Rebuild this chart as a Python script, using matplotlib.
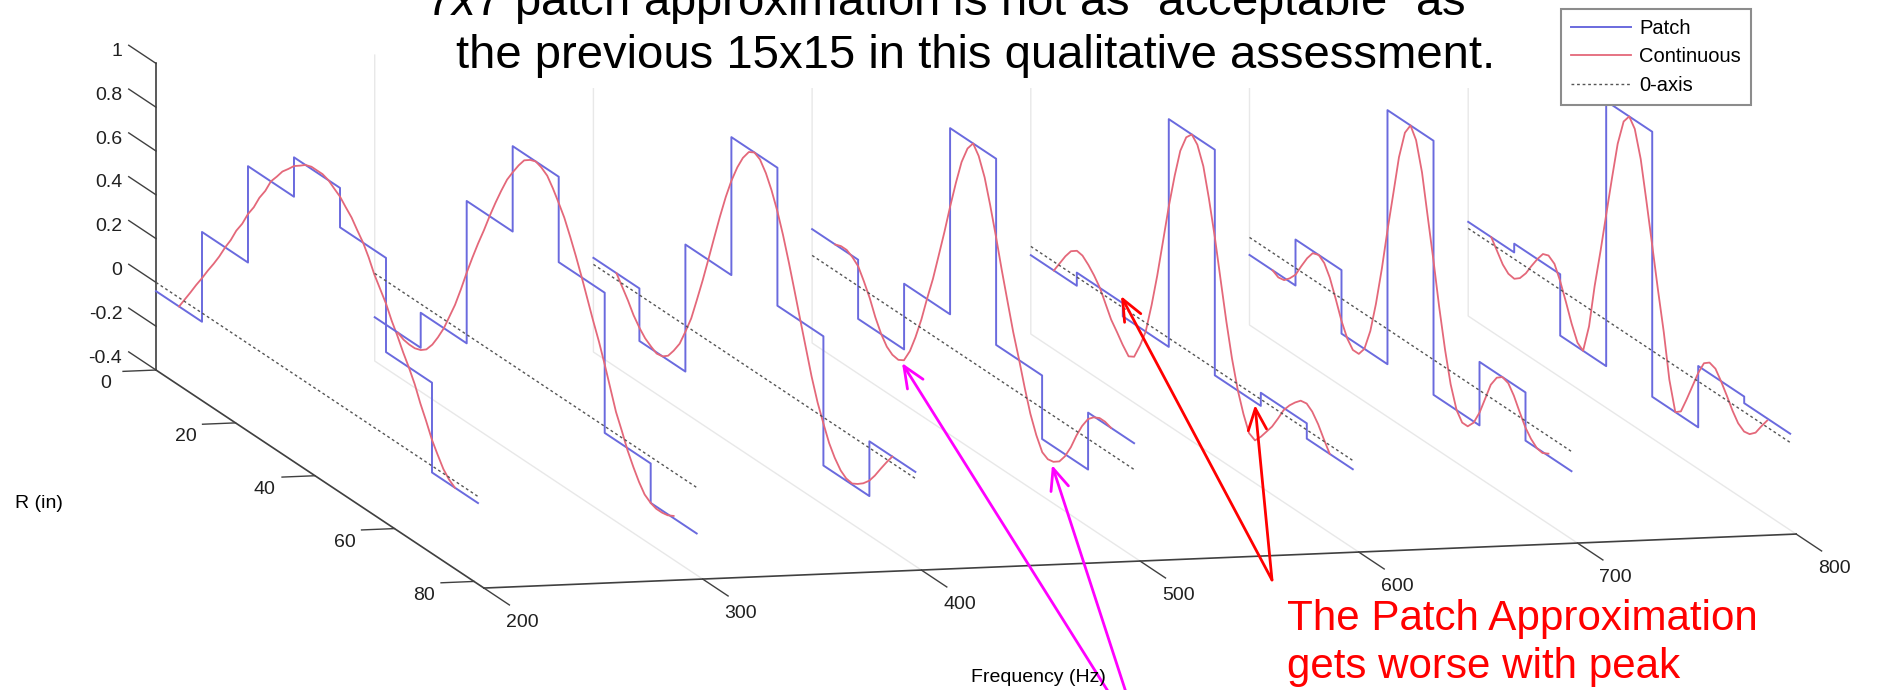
import numpy as np
import matplotlib
matplotlib.use('Agg')
import matplotlib.pyplot as plt
from matplotlib.patches import FancyArrowPatch

plt.rcParams['font.family'] = ['Liberation Sans', 'DejaVu Sans']
plt.rcParams['axes.unicode_minus'] = False
plt.rcParams['mathtext.fontset'] = 'custom'
plt.rcParams['mathtext.it'] = 'Liberation Sans:italic'
plt.rcParams['mathtext.rm'] = 'Liberation Sans'

# ---- data ----
freqs = [200, 300, 400, 500, 600, 700, 800]

# patch edges along R (7 patches) and the continuous curve sample positions
r_edges = [0.0, 11.57, 23.14, 34.71, 46.29, 57.86, 69.43, 81.0]
r_cont = [5.8, 7.25, 8.7, 10.1, 11.6, 13.0, 14.5, 15.9, 17.4, 18.8, 20.2, 21.7, 23.1,
          24.6, 26.0, 27.5, 28.9, 30.4, 31.8, 33.3, 34.7, 36.2, 37.6, 39.1, 40.5,
          41.9, 43.4, 44.8, 46.3, 47.7, 49.2, 50.6, 52.1, 53.5, 54.9, 56.4, 57.9,
          59.3, 60.7, 62.2, 63.6, 65.1, 66.5, 67.9, 69.4, 70.8, 72.3, 73.7, 75.2]

cont_200 = [-0.04, 0.01, 0.06, 0.11, 0.16, 0.21, 0.26, 0.31, 0.37, 0.42, 0.48, 0.53, 0.59,
            0.64, 0.70, 0.75, 0.81, 0.85, 0.89, 0.92, 0.95, 0.97, 0.99, 1.00, 1.00,
            1.00, 0.99, 0.97, 0.95, 0.92, 0.89, 0.85, 0.81, 0.76, 0.70, 0.65, 0.60,
            0.54, 0.49, 0.43, 0.38, 0.32, 0.25, 0.19, 0.12, 0.07, 0.02, -0.01, -0.03]
cont_300 = [-0.20, -0.215, -0.22, -0.22, -0.21, -0.19, -0.15, -0.10, -0.04, 0.03, 0.10, 0.19, 0.28,
            0.37, 0.45, 0.53, 0.61, 0.69, 0.76, 0.83, 0.88, 0.93, 0.97, 0.99, 1.00,
            0.99, 0.97, 0.93, 0.88, 0.83, 0.76, 0.69, 0.61, 0.53, 0.45, 0.37, 0.28,
            0.19, 0.10, 0.03, -0.04, -0.10, -0.15, -0.19, -0.21, -0.22, -0.22, -0.215, -0.20]
cont_400 = [0.03, -0.015, -0.06, -0.11, -0.15, -0.18, -0.20, -0.215, -0.21, -0.19, -0.15, -0.10, -0.03,
            0.05, 0.15, 0.26, 0.37, 0.49, 0.60, 0.71, 0.80, 0.88, 0.94, 0.985, 1.00,
            0.985, 0.94, 0.88, 0.80, 0.71, 0.60, 0.49, 0.37, 0.26, 0.15, 0.05, -0.03,
            -0.10, -0.15, -0.19, -0.21, -0.215, -0.20, -0.18, -0.15, -0.11, -0.06, -0.015, 0.03]
cont_500 = [0.12, 0.13, 0.13, 0.115, 0.09, 0.04, -0.02, -0.09, -0.15, -0.19, -0.21, -0.215, -0.20,
            -0.14, -0.06, 0.04, 0.15, 0.26, 0.38, 0.51, 0.64, 0.77, 0.88, 0.96, 1.00,
            0.96, 0.88, 0.77, 0.64, 0.51, 0.38, 0.26, 0.15, 0.04, -0.06, -0.14, -0.20,
            -0.215, -0.21, -0.19, -0.15, -0.09, -0.02, 0.04, 0.09, 0.115, 0.13, 0.13, 0.12]
cont_600 = [-0.04, 0.01, 0.06, 0.10, 0.12, 0.115, 0.09, 0.06, 0.02, -0.035, -0.09, -0.13, -0.17,
            -0.205, -0.19, -0.12, -0.04, 0.10, 0.25, 0.43, 0.60, 0.76, 0.89, 0.97, 1.00,
            0.97, 0.89, 0.76, 0.60, 0.43, 0.25, 0.10, -0.03, -0.12, -0.19, -0.205, -0.17,
            -0.13, -0.09, -0.035, 0.02, 0.06, 0.09, 0.115, 0.12, 0.10, 0.06, 0.01, -0.04]
cont_700 = [-0.08, -0.095, -0.09, -0.065, -0.03, 0.025, 0.08, 0.12, 0.13, 0.11, 0.06, -0.02, -0.10,
            -0.165, -0.20, -0.20, -0.16, -0.06, 0.08, 0.26, 0.45, 0.64, 0.82, 0.95, 1.00,
            0.95, 0.82, 0.64, 0.45, 0.26, 0.08, -0.06, -0.16, -0.20, -0.20, -0.165, -0.10,
            -0.02, 0.06, 0.11, 0.13, 0.12, 0.08, 0.025, -0.03, -0.065, -0.09, -0.095, -0.08]
cont_800 = [0.03, -0.015, -0.06, -0.085, -0.09, -0.07, -0.03, 0.02, 0.07, 0.11, 0.12, 0.10, 0.04,
            -0.04, -0.12, -0.19, -0.21, -0.08, 0.12, 0.30, 0.48, 0.67, 0.84, 0.96, 1.00,
            0.96, 0.84, 0.67, 0.48, 0.30, 0.12, -0.08, -0.21, -0.19, -0.12, -0.04, 0.04,
            0.10, 0.12, 0.11, 0.07, 0.02, -0.03, -0.07, -0.09, -0.085, -0.06, -0.015, 0.03]

patch_200 = [-0.04, 0.37, 0.81, 0.99, 0.81, 0.38, -0.03]
patch_300 = [-0.20, -0.04, 0.61, 1.00, 0.61, -0.03, -0.21]
patch_400 = [0.03, -0.21, 0.37, 1.00, 0.37, -0.22, 0.03]
patch_500 = [0.12, -0.15, 0.15, 1.00, 0.15, -0.14, 0.12]
patch_600 = [-0.04, 0.02, -0.04, 1.00, -0.03, 0.03, -0.04]
patch_700 = [-0.08, 0.13, -0.16, 1.00, -0.16, 0.13, -0.09]
patch_800 = [0.03, 0.07, -0.21, 1.00, -0.21, 0.07, 0.04]

freq_ticks = [200, 300, 400, 500, 600, 700, 800]
r_ticks = [0, 20, 40, 60, 80]
amp_ticks = [-0.4, -0.2, 0.0, 0.2, 0.4, 0.6, 0.8, 1.0]
amp_tick_labels = ['-0.4', '-0.2', '0', '0.2', '0.4', '0.6', '0.8', '1']

slices = list(zip(freqs,
                  [cont_200, cont_300, cont_400, cont_500, cont_600, cont_700, cont_800],
                  [patch_200, patch_300, patch_400, patch_500, patch_600, patch_700, patch_800]))

patch_color = '#6a6ade'
cont_color = '#e4687a'
zero_color = '#555555'

W, H = 1877, 690
fig = plt.figure(figsize=(W / 100, H / 100), dpi=100)

# big square 3d axes so nothing gets clipped; view tuned to the matlab camera
ax = fig.add_axes([0.00432, -0.8358, 1.00426, 2.73188], projection='3d',
                  proj_type='ortho', computed_zorder=False)
ax.set_box_aspect((1352.2, 1358.4, 310.9), zoom=1.0)
ax.view_init(elev=9.52, azim=-103.97, roll=0)
ax.set_xlim(200, 800)
ax.set_ylim(82.5, 0)
ax.set_zlim(-0.4, 1.0)

for k, (f, cont_vals, patch_vals) in enumerate(slices):
    r_step = np.repeat(r_edges, 2)[1:-1]
    v_step = np.repeat(patch_vals, 2)
    ax.plot(np.full(r_step.size, f), r_step, v_step, color=patch_color, lw=1.4,
            label='Patch' if k == 0 else '_nolegend_')
    ax.plot(np.full(len(r_cont), f), r_cont, cont_vals, color=cont_color, lw=1.3,
            label='Continuous' if k == 0 else '_nolegend_')
    ax.plot([f, f], [r_edges[0], r_edges[-1]], [0, 0], color=zero_color, lw=1.0,
            ls=(0, (2, 2)), label='0-axis' if k == 0 else '_nolegend_')

ax.set_xticks(freq_ticks, [str(v) for v in freq_ticks], ha='left', va='center')
ax.set_yticks(r_ticks, [str(v) for v in r_ticks], ha='center', va='center')
ax.set_zticks(amp_ticks, amp_tick_labels, ha='right', va='bottom')
ax.zaxis.set_ticks_position('lower')

ax.tick_params(axis='x', pad=39, labelsize=14, color='#404040', labelcolor='#202020')
ax.tick_params(axis='y', pad=19, labelsize=14, color='#404040', labelcolor='#202020')
ax.tick_params(axis='z', pad=6.5, labelsize=14, color='#404040', labelcolor='#202020')

for axis, out_f, in_f in [(ax.xaxis, 0.0, 0.97), (ax.yaxis, 0.0, 0.314), (ax.zaxis, 1.04, 0.0)]:
    axis._axinfo['tick']['outward_factor'] = out_f
    axis._axinfo['tick']['inward_factor'] = in_f
    axis._axinfo['tick']['linewidth'] = {True: 1.0, False: 0.5}
    axis.line.set_color('#404040')
    axis.line.set_linewidth(1.2)
    axis.set_pane_color((1, 1, 1, 0))

ax.grid(True)
ax.xaxis._axinfo['grid'].update(color='#e8e8e8', linewidth=1.0, linestyle='-')
ax.yaxis._axinfo['grid'].update(color=(1, 1, 1, 0))
ax.zaxis._axinfo['grid'].update(color=(1, 1, 1, 0))

# axis titles
fig.text(1038 / W, 1 - 678 / H, 'Frequency (Hz)', ha='center', va='center', fontsize=14)
fig.text(39 / W, 1 - 504 / H, 'R (in)', ha='center', va='center', fontsize=14)

# legend
handles, labels = ax.get_legend_handles_labels()
leg = fig.legend(handles, labels, loc='upper left', bbox_to_anchor=(1561 / W, 1 - 9 / H),
                 bbox_transform=fig.transFigure, fontsize=14.5, handlelength=3.0,
                 handletextpad=0.4, labelspacing=0.48, borderpad=0.48, borderaxespad=0,
                 fancybox=False, framealpha=1)
leg.get_frame().set_edgecolor('#8c8c8c')
leg.get_frame().set_linewidth(1.5)

# slide title (partly cut off at the top, as on the slide)
box = dict(facecolor='white', edgecolor='none', pad=7)
fig.text(945 / W, 1 - 15 / H,
         '$\\mathit{7x7}$ patch approximation is not as \u201cacceptable\u201d as',
         ha='center', va='baseline', fontsize=34, bbox=box)
fig.text(976 / W, 1 - 68 / H, 'the previous 15x15 in this qualitative assessment.',
         ha='center', va='baseline', fontsize=34, bbox=box)

# annotations
fig.text(1287 / W, 1 - 678 / H, 'The Patch Approximation\ngets worse with peak',
         color='#ff0000', fontsize=30.3, ha='left', va='baseline', linespacing=1.27)

arrows = [((1272, 580), (1121, 296), '#ff0000'),
          ((1272, 580), (1255, 405), '#ff0000'),
          ((1126, 720), (902, 363), '#ff00ff'),
          ((1135, 720), (1052, 465), '#ff00ff')]
for (xa, ya), (xb, yb), col in arrows:
    fig.add_artist(FancyArrowPatch((xa / W, 1 - ya / H), (xb / W, 1 - yb / H),
                                   transform=fig.transFigure,
                                   arrowstyle='->,head_length=0.7,head_width=0.3',
                                   mutation_scale=22, color=col, lw=2.0,
                                   shrinkA=0, shrinkB=0))

fig.savefig('out.png', dpi=100)
